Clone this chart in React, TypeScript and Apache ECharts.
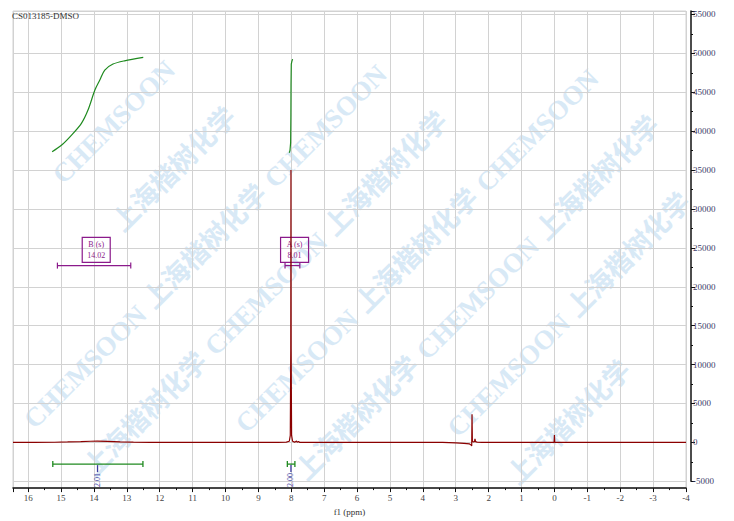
import React, { useEffect, useRef } from "react";
import * as echarts from "echarts";

// ---- data ----
const titleText = "CS013185-DMSO";
const xAxisName = "f1 (ppm)";

const spectrumPpm = [16.46, 15.8, 15.2, 14.8, 14.4, 14.1, 13.9, 13.6, 13.2, 12.8, 12.3, 11.5, 10.0, 9.0, 8.4, 8.15, 8.06, 8.03, 8.015, 8.01, 8.005, 7.99, 7.96, 7.9, 7.84, 7.82, 7.78, 7.75, 7.5, 6.0, 5.0, 4.0, 3.4, 3.0, 2.75, 2.58, 2.53, 2.515, 2.505, 2.495, 2.47, 2.43, 2.415, 2.4, 2.35, 2.2, 1.0, 0.01, 0.0, -0.01, -2.0, -4.0];
const spectrumIntensity = [0, 5, 20, 60, 110, 150, 160, 130, 70, 25, 5, 0, -10, 0, 10, 40, 150, 900, 12000, 35000, 12000, 900, 150, 30, 160, 20, 120, 10, 0, 0, 0, 10, 0, -60, -120, -200, -350, -450, 3600, 200, 60, 80, 450, 100, 30, 0, 0, 0, 950, 0, 0, 0];

const integralBPpm = [15.27, 14.98, 14.68, 14.38, 14.18, 13.97, 13.82, 13.67, 13.42, 13.07, 12.5];
const integralBValue = [37350, 38210, 39490, 41000, 42710, 45280, 46570, 47850, 48620, 49040, 49480];
const integralAPpm = [8.06, 8.04, 8.02, 8.012, 8.008, 8.0, 7.98, 7.96];
const integralAValue = [37220, 37500, 38500, 42000, 46000, 48600, 49000, 49250];

const integrationFrom = [15.25, 8.12];
const integrationTo = [12.51, 7.89];
const integrationCenter = [13.89, 8.01];
const integrationLabels = ["2.01", "2.00"];
const integrationLevel = -2790;

const multipletNames = ["B (s)", "A (s)"];
const multipletShifts = ["14.02", "8.01"];
const multipletBoxCenter = [13.93, 7.9];
const multipletBarFrom = [15.11, 8.19];
const multipletBarTo = [12.88, 7.74];
const multipletBoxTop = 26350;
const multipletBoxBottom = 23130;
const multipletBarLevel = 22720;

const xMin = -4;
const xMax = 16.46;
const yMin = -5000;
const yMax = 55440;

const watermarkWords = ["上海楷树化学", "CHEMSOON"];

// ---- styles ----
const SERIF = '"Liberation Serif", "DejaVu Serif", serif';
const RED = "#8b0000";
const GREEN = "#1f8a1f";
const PURPLE = "#8b1a8b";
const BLUE = "#3c3ca0";
const GRIDC = "#d2d2d2";

function buildWatermark() {
  const W = 734;
  const H = 521;
  const c = Math.SQRT1_2;
  const widths = [160, 152];
  const h = 27;
  const gap = 14;
  const out: any[] = [];
  for (let row = 0; row < 16; row++) {
    const x0 = -600 + row * 108;
    const y0 = 620;
    let s = (row * 57) % 120;
    let k = row % 2;
    while (s < 1500) {
      const w = widths[k];
      const mid = s + w / 2;
      const cx = x0 + mid * c;
      const cy = y0 - mid * c;
      const half = (w / 2) * c + (h / 2) * c;
      if (cx - half >= -2 && cx + half <= W + 2 && cy - half >= -2 && cy + half <= H + 2) {
        out.push({
          type: "text",
          x: cx,
          y: cy,
          rotation: Math.PI / 4,
          z: -10,
          silent: true,
          style: {
            text: watermarkWords[k],
            fill: "#d8e9f6",
            font: 'bold 27px "Liberation Serif", "Noto Sans CJK SC", serif',
            align: "center",
            verticalAlign: "middle",
          },
        });
      }
      s += w + gap;
      k = 1 - k;
    }
  }
  return out;
}

function buildOption() {
  const spectrum = spectrumPpm.map((p, i) => [p, spectrumIntensity[i]]);
  const intB = integralBPpm.map((p, i) => [p, integralBValue[i]]);
  const intA = integralAPpm.map((p, i) => [p, integralAValue[i]]);

  return {
    animation: false,
    backgroundColor: "#ffffff",
    title: {
      text: titleText,
      left: 12,
      top: 11,
      padding: 0,
      textStyle: { fontSize: 9, fontWeight: "normal", fontFamily: SERIF, color: "#333" },
    },
    graphic: buildWatermark(),
    grid: [
      { left: 13, right: 48, top: 11, bottom: 32, show: true, borderColor: GRIDC, borderWidth: 1 },
      { left: 13, right: 48, top: 11, bottom: 39.7 },
    ],
    xAxis: [
      {
        gridIndex: 0,
        type: "value",
        inverse: true,
        min: xMin,
        max: xMax,
        interval: 1,
        name: xAxisName,
        nameLocation: "middle",
        nameGap: 17,
        nameTextStyle: { fontSize: 9, fontFamily: SERIF, color: "#333" },
        axisLine: { show: true, onZero: false, lineStyle: { color: "#111", width: 1.5 } },
        axisTick: { show: true, length: 4, lineStyle: { color: "#111" } },
        minorTick: { show: true, splitNumber: 2, length: 2, lineStyle: { color: "#111" } },
        axisLabel: {
          fontSize: 9,
          fontFamily: SERIF,
          color: "#444",
          margin: 5,
          showMaxLabel: false,
          formatter: (v: number) => (Number.isInteger(v) ? String(v) : ""),
        },
        splitLine: { show: true, lineStyle: { color: GRIDC, width: 1 } },
      },
      {
        gridIndex: 1,
        type: "value",
        inverse: true,
        min: xMin,
        max: xMax,
        show: false,
      },
    ],
    yAxis: [
      { gridIndex: 0, type: "value", min: 0, max: 1, show: false },
      {
        gridIndex: 1,
        type: "value",
        position: "right",
        offset: 5,
        min: yMin,
        max: yMax,
        interval: 5000,
        axisLine: { show: true, onZero: false, lineStyle: { color: "#111", width: 1.5 } },
        axisTick: { show: true, length: 4, lineStyle: { color: "#111" } },
        minorTick: { show: true, splitNumber: 2, length: 2, lineStyle: { color: "#111" } },
        axisLabel: {
          fontSize: 9,
          fontFamily: SERIF,
          color: "#40406a",
          margin: 2,
          showMaxLabel: false,
          formatter: (v: number) => (v % 5000 === 0 ? String(v) : ""),
        },
        splitLine: { show: true, lineStyle: { color: GRIDC, width: 1 } },
      },
    ],
    series: [
      {
        type: "line",
        xAxisIndex: 1,
        yAxisIndex: 1,
        data: spectrum,
        symbol: "none",
        lineStyle: { color: RED, width: 1.2 },
        z: 3,
      },
      {
        type: "line",
        xAxisIndex: 1,
        yAxisIndex: 1,
        data: intB,
        symbol: "none",
        smooth: 0.3,
        lineStyle: { color: GREEN, width: 1.2 },
        z: 4,
      },
      {
        type: "line",
        xAxisIndex: 1,
        yAxisIndex: 1,
        data: intA,
        symbol: "none",
        lineStyle: { color: GREEN, width: 1.2 },
        z: 4,
      },
      {
        type: "custom",
        xAxisIndex: 1,
        yAxisIndex: 1,
        data: integrationFrom.map((f, i) => [f, integrationTo[i], integrationCenter[i]]),
        z: 5,
        renderItem: (params: any, api: any) => {
          const p1 = api.coord([api.value(0), integrationLevel]);
          const p2 = api.coord([api.value(1), integrationLevel]);
          const pc = api.coord([api.value(2), integrationLevel]);
          const ls = { stroke: GREEN, lineWidth: 1.3 };
          return {
            type: "group",
            children: [
              { type: "line", shape: { x1: p1[0], y1: p1[1], x2: p2[0], y2: p2[1] }, style: ls },
              { type: "line", shape: { x1: p1[0], y1: p1[1] - 3, x2: p1[0], y2: p1[1] + 3 }, style: ls },
              { type: "line", shape: { x1: p2[0], y1: p2[1] - 3, x2: p2[0], y2: p2[1] + 3 }, style: ls },
              { type: "line", shape: { x1: pc[0], y1: pc[1] + 1, x2: pc[0], y2: pc[1] + 8 }, style: { stroke: BLUE, lineWidth: 1.3 } },
              {
                type: "text",
                x: pc[0],
                y: pc[1] + 23,
                rotation: Math.PI / 2,
                style: {
                  text: integrationLabels[params.dataIndex],
                  fill: BLUE,
                  font: `8px ${SERIF}`,
                  align: "left",
                  verticalAlign: "middle",
                },
              },
            ],
          };
        },
      },
      {
        type: "custom",
        xAxisIndex: 1,
        yAxisIndex: 1,
        data: multipletBoxCenter.map((c, i) => [c, multipletBarFrom[i], multipletBarTo[i]]),
        z: 2,
        renderItem: (params: any, api: any) => {
          const top = api.coord([api.value(0), multipletBoxTop]);
          const bot = api.coord([api.value(0), multipletBoxBottom]);
          const b1 = api.coord([api.value(1), multipletBarLevel]);
          const b2 = api.coord([api.value(2), multipletBarLevel]);
          const w = 28;
          const ls = { stroke: PURPLE, lineWidth: 1.2 };
          const i = params.dataIndex;
          return {
            type: "group",
            children: [
              {
                type: "rect",
                shape: { x: top[0] - w / 2, y: top[1], width: w, height: bot[1] - top[1] },
                style: { fill: "none", stroke: PURPLE, lineWidth: 1.2 },
              },
              {
                type: "text",
                x: top[0],
                y: top[1] + 7,
                style: { text: multipletNames[i], fill: PURPLE, font: `8px ${SERIF}`, align: "center", verticalAlign: "middle" },
              },
              {
                type: "text",
                x: top[0],
                y: top[1] + 18,
                style: { text: multipletShifts[i], fill: PURPLE, font: `8px ${SERIF}`, align: "center", verticalAlign: "middle" },
              },
              { type: "line", shape: { x1: b1[0], y1: b1[1], x2: b2[0], y2: b2[1] }, style: ls },
              { type: "line", shape: { x1: b1[0], y1: b1[1] - 3, x2: b1[0], y2: b1[1] + 3 }, style: ls },
              { type: "line", shape: { x1: b2[0], y1: b2[1] - 3, x2: b2[0], y2: b2[1] + 3 }, style: ls },
            ],
          };
        },
      },
    ],
  };
}

export default function App() {
  const ref = useRef<HTMLDivElement>(null);
  useEffect(() => {
    if (!ref.current) return;
    const chart = echarts.init(ref.current, null, { renderer: "svg" });
    chart.setOption(buildOption() as any);
    return () => chart.dispose();
  }, []);
  return (
    <div
      ref={ref}
      style={{ position: "fixed", left: 0, top: 0, width: 734, height: 521, background: "#fff" }}
    />
  );
}
